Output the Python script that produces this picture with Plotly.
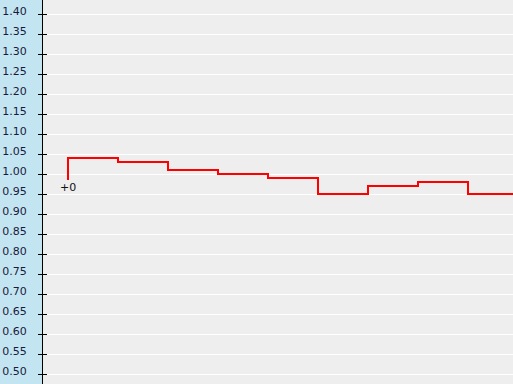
import plotly.graph_objects as go

steps = [0, 1, 2, 3, 4, 5, 6, 7, 8, 9]
values = [0.985, 1.04, 1.03, 1.01, 1.00, 0.99, 0.95, 0.97, 0.98, 0.95]
tick_vals = [round(0.50 + 0.05 * i, 2) for i in range(19)]
tick_text = ["%.2f" % v for v in tick_vals]
start_label = "+0"

fig = go.Figure()
fig.add_trace(go.Scatter(
    x=steps, y=values, mode="lines", line_shape="vh",
    line=dict(color="#ff0000", width=2), showlegend=False, hoverinfo="skip",
))
# second overlay axis for the inner half of the crossing ticks
fig.add_trace(go.Scatter(x=[steps[0]], y=[values[0]], yaxis="y2", mode="markers",
                         marker=dict(opacity=0), showlegend=False, hoverinfo="skip"))

fig.add_annotation(x=steps[0], y=values[0], text=start_label, showarrow=False,
                   xanchor="center", yanchor="top", yshift=1,
                   font=dict(family="DejaVu Sans", size=11, color="#111111"))

yr = [0.475, 1.435]
fig.update_layout(
    width=513, height=384,
    margin=dict(l=43, r=0, t=0, b=0, pad=0),
    paper_bgcolor="#c3e5f2",
    plot_bgcolor="#eeeeee",
    xaxis=dict(range=[-0.5, 8.9], visible=False, showgrid=False, zeroline=False),
    yaxis=dict(range=yr, tickvals=tick_vals, ticktext=tick_text,
               showgrid=True, gridcolor="#ffffff", gridwidth=1, zeroline=False,
               showline=True, linecolor="#000000", linewidth=1,
               ticks="outside", ticklen=4, tickcolor="#000000", tickwidth=1,
               ticklabelstandoff=9, ticklabelshift=-3,
               tickfont=dict(family="DejaVu Sans", size=11, color="#1a1a3a")),
    yaxis2=dict(range=yr, tickvals=tick_vals, overlaying="y", side="left",
                showgrid=False, zeroline=False, showticklabels=False,
                ticks="inside", ticklen=4, tickcolor="#000000", tickwidth=1),
)

fig.write_html("out.html")
